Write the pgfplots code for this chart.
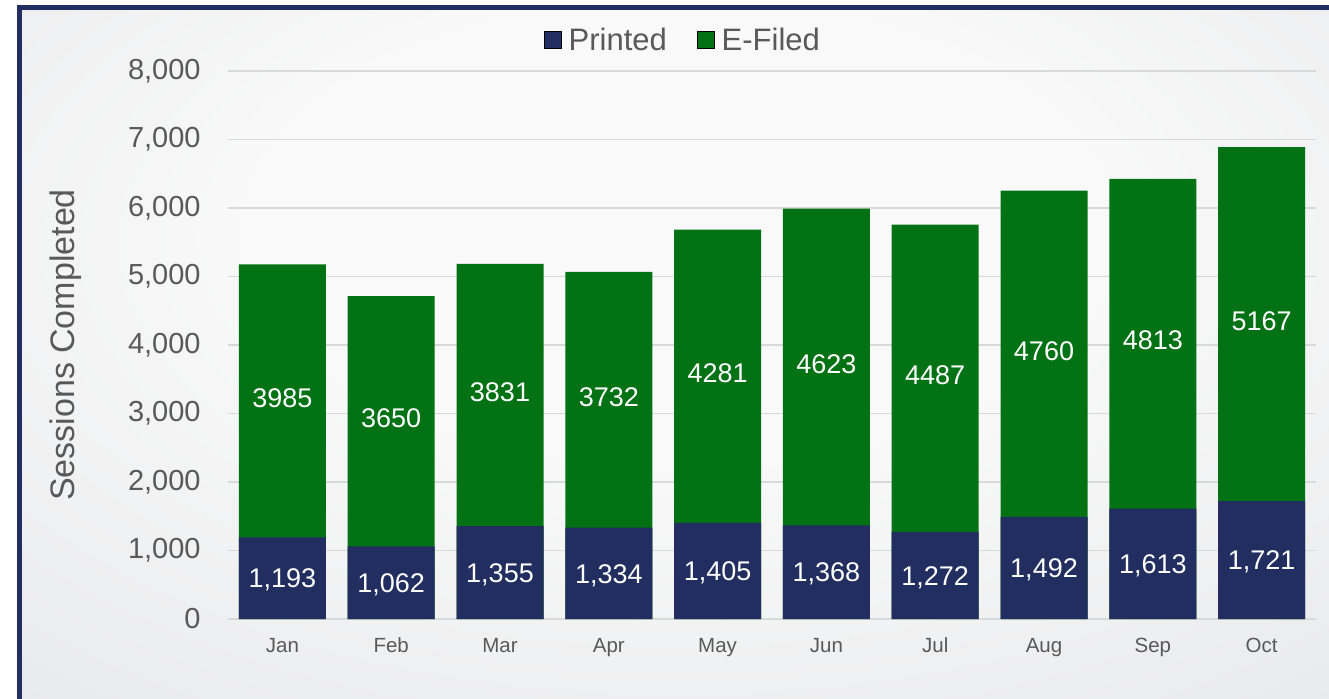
\documentclass[border=0pt]{standalone}
\usepackage{pgfplots}
\pgfplotsset{compat=1.18}
\usepackage{pgfplotstable}
\usepackage{fontspec}
\setmainfont{Liberation Sans}
\definecolor{navy}{RGB}{34,45,96}
\definecolor{efgreen}{RGB}{3,114,20}
\definecolor{txtgray}{RGB}{89,89,89}
\definecolor{gridgray}{RGB}{216,217,219}
\definecolor{bglight}{RGB}{249,249,249}
\definecolor{bgmid}{RGB}{232,233,235}
\definecolor{bgdark}{RGB}{200,204,209}
\pgfdeclareradialshading{panel}{\pgfpoint{0bp}{12bp}}{%
  color(0bp)=(bglight); color(16bp)=(bglight); color(40bp)=(bgmid); color(72bp)=(bgdark)}

\pgfplotstableread{
x P E
0 1193 3985
1 1062 3650
2 1355 3831
3 1334 3732
4 1405 4281
5 1368 4623
6 1272 4487
7 1492 4760
8 1613 4813
9 1721 5167
}\data

\begin{document}
\begin{tikzpicture}
\useasboundingbox (0pt,0pt) rectangle (664.5pt,349pt);
\fill[white] (0pt,0pt) rectangle (664.5pt,349pt);
\shade[shading=panel] (9.75pt,-11pt) rectangle (670pt,345.25pt);
\draw[navy, line width=2.5pt] (9.75pt,-11pt) rectangle (670pt,345.25pt);
\begin{axis}[
  at={(114pt,39.5pt)}, anchor=south west,
  scale only axis, width=544pt, height=274pt,
  xmin=-0.5, xmax=9.5, ymin=0, ymax=8000,
  ytick={0,1000,...,8000},
  xtick={0,...,9},
  xticklabels={Jan,Feb,Mar,Apr,May,Jun,Jul,Aug,Sep,Oct},
  axis line style={draw=none},
  major tick length=0pt,
  ymajorgrids,
  grid style={gridgray, line width=0.8pt},
  /pgf/number format/1000 sep={,},
  /pgf/number format/assume math mode=true,
  yticklabel style={font=\fontsize{14.5}{17}\selectfont, text=txtgray, inner sep=0pt, anchor=east, xshift=-13.5pt},
  xticklabel style={font=\fontsize{10.25}{12}\selectfont, text=txtgray, inner sep=0pt, anchor=base, yshift=-16.5pt},
  ylabel={Sessions Completed},
  ylabel style={font=\fontsize{17}{20}\selectfont, text=txtgray, at={(axis description cs:-0.1489,0.5)}, anchor=center},
  legend style={at={(axis description cs:0.419,1.056)}, anchor=center, draw=none, fill=none,
    legend columns=2, font=\fontsize{15.5}{18}\selectfont, text=txtgray,
    /tikz/every even column/.append style={column sep=13pt}},
  legend image code/.code={\fill[#1] (0pt,-4.25pt) rectangle (8.5pt,4.25pt); \path (10pt,0pt);},
]
\addlegendimage{fill=navy}
\addlegendentry{Printed}
\addlegendimage{fill=efgreen}
\addlegendentry{E-Filed}

\addplot[ybar, bar width=43.5pt, bar shift=0pt, fill=efgreen, draw=none, forget plot]
  table[x=x, y expr=\thisrow{P}+\thisrow{E}] {\data};
\addplot[ybar, bar width=43.5pt, bar shift=0pt, fill=navy, draw=none, forget plot]
  table[x=x, y=P] {\data};

\addplot[draw=none, mark=none, forget plot, point meta=explicit,
  nodes near coords, nodes near coords align={center},
  every node near coord/.append style={text=white, anchor=center, yshift=-1pt, font=\fontsize{13.5}{16}\selectfont}]
  table[x=x, y expr=\thisrow{P}/2, meta=P] {\data};
\addplot[draw=none, mark=none, forget plot, point meta=explicit,
  nodes near coords={\pgfmathprintnumber[1000 sep={}]{\pgfplotspointmeta}}, nodes near coords align={center},
  every node near coord/.append style={text=white, anchor=center, yshift=1.5pt, font=\fontsize{13.5}{16}\selectfont}]
  table[x=x, y expr=\thisrow{P}+\thisrow{E}/2, meta=E] {\data};
\end{axis}
\end{tikzpicture}
\end{document}
